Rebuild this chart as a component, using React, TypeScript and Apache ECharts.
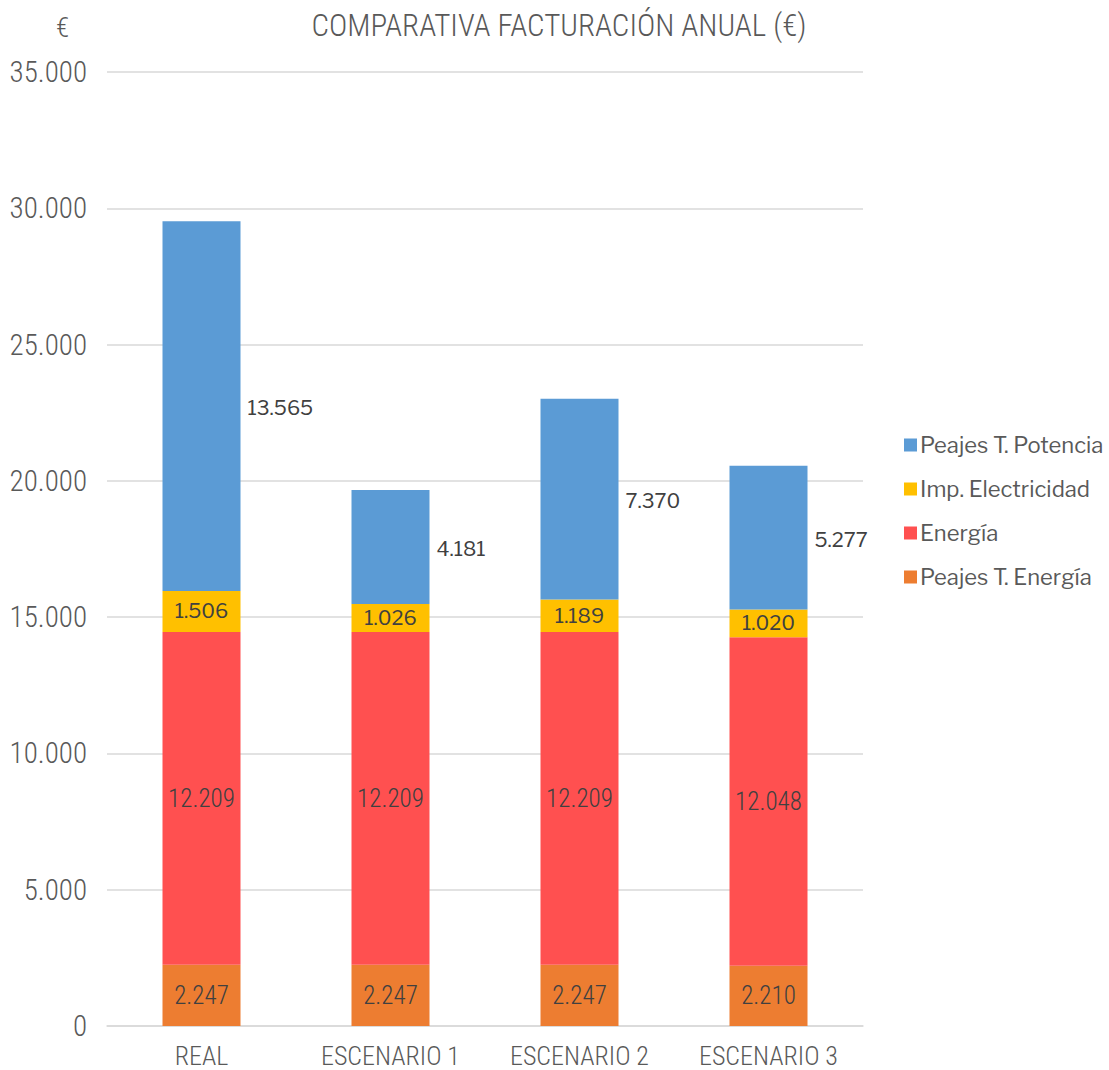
import React, { useEffect, useRef } from "react";
import * as echarts from "echarts";

const categories = ["REAL", "ESCENARIO 1", "ESCENARIO 2", "ESCENARIO 3"];
const peajesEnergia = [2247, 2247, 2247, 2210];
const energia = [12209, 12209, 12209, 12048];
const impElectricidad = [1506, 1026, 1189, 1020];
const peajesPotencia = [13565, 4181, 7370, 5277];
const yTicks = { min: 0, max: 35000, interval: 5000 };

const NARROW = "'Roboto Condensed', 'Liberation Sans', sans-serif";
const WIDE = "'Libre Franklin', 'Open Sans', sans-serif";
const TXT = "#404040";
const AX = "#595959";

const fmtN = (v: number) => String(Math.round(v)).replace(/\B(?=(\d{3})+(?!\d))/g, ".");

export default function App() {
  const ref = useRef<HTMLDivElement>(null);
  useEffect(() => {
    const chart = echarts.init(ref.current!, null, { renderer: "svg" });
    const base = { type: "bar" as const, stack: "total", barWidth: 78 };
    const narrowLabel = {
      show: true,
      position: "inside",
      fontFamily: NARROW,
      fontWeight: 300,
      fontSize: 25,
      color: TXT,
      formatter: (p: any) => fmtN(p.value),
    };
    const wideLabel = {
      show: true,
      position: "inside",
      fontFamily: WIDE,
      fontSize: 20,
      color: TXT,
      formatter: (p: any) => fmtN(p.value),
    };
    chart.setOption({
      animation: false,
      backgroundColor: "#ffffff",
      title: {
        text: "COMPARATIVA FACTURACIÓN ANUAL (€)",
        left: 554,
        textAlign: "center",
        top: 5,
        textStyle: { fontFamily: NARROW, fontSize: 31, fontWeight: 300, color: AX },
      },
      graphic: [
        {
          type: "text",
          left: 56,
          top: 14,
          style: { text: "€", fontFamily: NARROW, fontWeight: 300, fontSize: 27, fill: AX },
        },
      ],
      legend: {
        orient: "vertical",
        left: 899,
        top: 428,
        itemWidth: 13,
        itemHeight: 13,
        itemGap: 20,
        icon: "rect",
        data: ["Peajes T. Potencia", "Imp. Electricidad", "Energía", "Peajes T. Energía"],
        textStyle: { fontFamily: WIDE, fontSize: 22, lineHeight: 24, color: AX, padding: [0, 0, 0, -2] },
      },
      grid: { left: 107, right: 246, top: 72, bottom: 44, containLabel: false },
      xAxis: {
        type: "category",
        data: categories,
        axisTick: { show: false },
        axisLine: { lineStyle: { color: "#d9d9d9", width: 1.5 } },
        axisLabel: { fontFamily: NARROW, fontWeight: 300, fontSize: 26, color: AX, margin: 17 },
      },
      yAxis: {
        type: "value",
        min: yTicks.min,
        max: yTicks.max,
        interval: yTicks.interval,
        axisLine: { show: false },
        axisTick: { show: false },
        splitLine: { lineStyle: { color: "#d9d9d9", width: 1.5 } },
        axisLabel: {
          fontFamily: NARROW,
          fontWeight: 300,
          fontSize: 29,
          color: AX,
          margin: 20,
          formatter: (v: number) => fmtN(v),
        },
      },
      series: [
        { ...base, name: "Peajes T. Energía", data: peajesEnergia, itemStyle: { color: "#ED7D31" }, label: narrowLabel },
        { ...base, name: "Energía", data: energia, itemStyle: { color: "#FF5050" }, label: narrowLabel },
        { ...base, name: "Imp. Electricidad", data: impElectricidad, itemStyle: { color: "#FFC000" }, label: wideLabel },
        {
          ...base,
          name: "Peajes T. Potencia",
          data: peajesPotencia,
          itemStyle: { color: "#5B9BD5" },
          label: { ...wideLabel, position: "right", distance: 7, offset: [0, 2] },
        },
      ],
    });
    return () => chart.dispose();
  }, []);
  return (
    <div style={{ position: "fixed", left: 0, top: 0, width: 1109, height: 1070 }}>
      <div ref={ref} style={{ width: 1109, height: 1070 }} />
    </div>
  );
}
